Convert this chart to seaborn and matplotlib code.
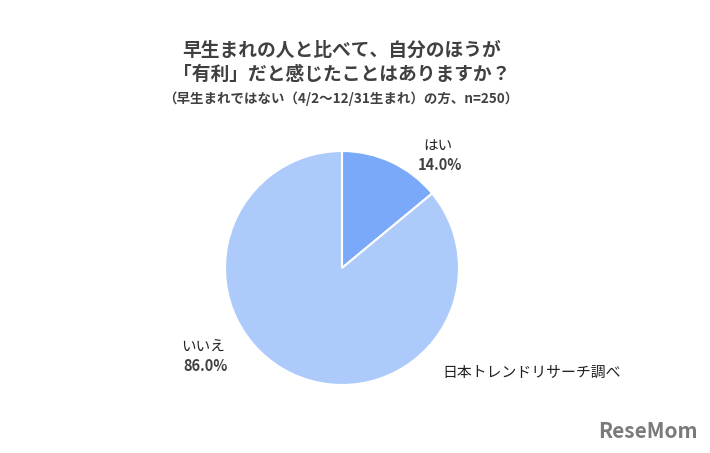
import matplotlib.pyplot as plt
import seaborn as sns

# データ
answers = ["はい", "いいえ"]
shares = [14.0, 86.0]
slice_colors = ["#7aa9f9", "#adcbfa"]

title_lines = ["早生まれの人と比べて、自分のほうが", "「有利」だと感じたことはありますか？"]
subtitle = "（早生まれではない（4/2～12/31生まれ）の方、n=250）"
source = "日本トレンドリサーチ調べ"

sns.set_style("white")
plt.rcParams["font.family"] = ["Noto Sans CJK JP", "DejaVu Sans"]

W, H = 710, 453
fig = plt.figure(figsize=(W / 100, H / 100), dpi=100)
fig.patch.set_facecolor("white")

# pie center (342, 268) px, radius 117 px
cx, cy, r = 342, 268, 117
ax = fig.add_axes([(cx - r) / W, (H - cy - r) / H, 2 * r / W, 2 * r / H])
ax.pie(shares, colors=slice_colors, startangle=90, counterclock=False,
       radius=1, wedgeprops=dict(edgecolor="white", linewidth=1.5))
ax.set_xlim(-1, 1)
ax.set_ylim(-1, 1)
ax.set_aspect("equal")
ax.axis("off")

# ラベル
label_pos = {"はい": (0.82, 1.04), "いいえ": (-1.19, -0.68)}
for name, val in zip(answers, shares):
    x, y = label_pos[name]
    ax.text(x, y, name, ha="center", va="center", fontsize=10.5, color="#222222",
            clip_on=False)
    ax.text(x + 0.02, y - 0.16, f"{val:.1f}%", ha="center", va="center", fontsize=10.5,
            fontweight="bold", color="#404040", clip_on=False)

# タイトル
col = "#404040"
fig.text(342 / W, 1 - 50 / H, title_lines[0], ha="center", va="center",
         fontsize=13.5, fontweight="bold", color=col)
fig.text(342 / W, 1 - 74 / H, title_lines[1], ha="center", va="center",
         fontsize=13.5, fontweight="bold", color=col)
fig.text(341 / W, 1 - 99 / H, subtitle, ha="center", va="center",
         fontsize=9.7, fontweight="bold", color=col)

fig.text(532 / W, 1 - 373 / H, source, ha="center", va="center",
         fontsize=10.7, color="#222222")

# watermark
fig.text(648 / W, 1 - 431 / H, "ReseMom", ha="center", va="center",
         fontsize=15, fontweight="bold", color="#7a7a7a")

fig.savefig("out.png", dpi=100, facecolor="white")
